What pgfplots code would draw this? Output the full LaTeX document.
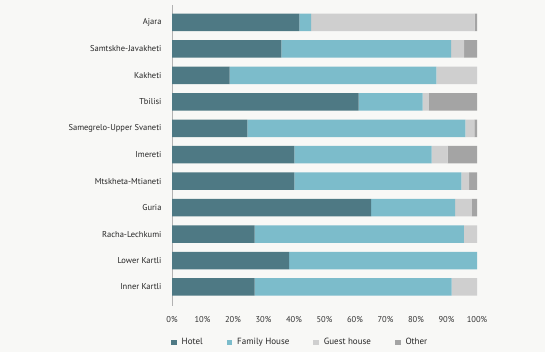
\documentclass[border=0pt]{standalone}
\usepackage{pgfplots}
\pgfplotsset{compat=1.18}
\usepackage{pgfplotstable}
\usepackage{fontspec}
\setmainfont{PT Sans}
\definecolor{hotel}{HTML}{4E7984}
\definecolor{family}{HTML}{7CBCCB}
\definecolor{guest}{HTML}{CFCFCF}
\definecolor{other}{HTML}{A4A4A4}
\definecolor{bg}{HTML}{F8F8F6}
\pgfplotstableread{
y hotel family guest other
0 27.1 64.6 8.3 0
1 38.4 61.6 0 0
2 27.1 68.6 4.3 0
3 65.3 27.5 5.5 1.7
4 40.1 54.8 2.5 2.6
5 40.1 45.0 5.3 9.6
6 24.7 71.5 2.9 0.9
7 61.2 21.0 2.0 15.8
8 18.9 67.8 13.3 0
9 35.9 55.6 4.3 4.2
10 41.8 3.8 53.6 0.8
}\data
\begin{document}
\begin{tikzpicture}[x=1pt,y=1pt]
\fill[bg] (0,0) rectangle (545,352);
\useasboundingbox (0,0) rectangle (545,352);
\begin{axis}[
  at={(172pt,46pt)}, anchor=south west,
  scale only axis, width=305pt, height=301pt,
  xbar stacked, bar width=17.5pt,
  xmin=0, xmax=100, ymin=-0.72, ymax=10.66,
  axis lines=left,
  x axis line style={draw=none},
  y axis line style={-, draw=gray!60, line width=0.8pt},
  major tick length=0pt,
  xtick={0,10,...,100},
  xticklabels={0\%,10\%,20\%,30\%,40\%,50\%,60\%,70\%,80\%,90\%,100\%},
  xticklabel style={font=\fontsize{8.5}{10}\selectfont, yshift=-7pt, text=black!80},
  ytick={0,...,10},
  yticklabels={Inner Kartli,Lower Kartli,Racha-Lechkumi,Guria,Mtskheta-Mtianeti,Imereti,Samegrelo-Upper Svaneti,Tbilisi,Kakheti,Samtskhe-Javakheti,Ajara},
  yticklabel style={font=\fontsize{8.5}{10}\selectfont, xshift=-7pt, text=black!85},
  legend columns=4,
  legend style={at={(0,0)}, anchor=west, xshift=-1pt, yshift=-36.5pt, draw=none, fill=none,
    inner sep=0pt, font=\fontsize{9}{10}\selectfont, text=black!85,
    /tikz/every odd column/.append style={column sep=3pt},
    /tikz/every even column/.append style={column sep=22pt}},
  legend image code/.code={\fill[#1,draw=none] (0pt,-2.75pt) rectangle (5.5pt,2.75pt);},
]
\addplot[fill=hotel, draw=none] table[x=hotel, y=y] {\data};
\addplot[fill=family, draw=none] table[x=family, y=y] {\data};
\addplot[fill=guest, draw=none] table[x=guest, y=y] {\data};
\addplot[fill=other, draw=none] table[x=other, y=y] {\data};
\legend{Hotel, Family House, Guest house, Other}
\end{axis}
\end{tikzpicture}
\end{document}
